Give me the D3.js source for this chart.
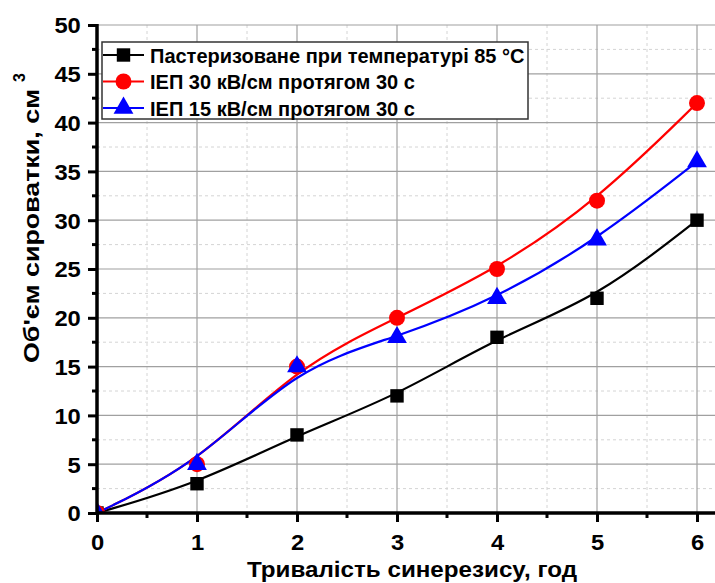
<!DOCTYPE html>
<html>
<head>
<meta charset="utf-8">
<script src="https://cdn.jsdelivr.net/npm/d3@7"></script>
<style>
  body { margin: 0; background: #fff; }
  svg { display: block; font-family: "Liberation Sans", Arial, sans-serif; font-weight: bold; }
</style>
</head>
<body>
<div id="graph"></div>
<script>
// data
const hours = [0, 1, 2, 3, 4, 5, 6]
const pasteurized = [0, 3, 8, 12, 18, 22, 30]
const pef30 = [0, 5, 15, 20, 25, 32, 42]
const pef15 = [0, 5, 15, 18, 22, 28, 36]
const seriesNames = [
    'Пастеризоване при температурі 85 °C',
    'ІЕП 30 кВ/см протягом 30 с',
    'ІЕП 15 кВ/см протягом 30 с'
]
const xTicks = [0, 1, 2, 3, 4, 5, 6]
const yTicks = [0, 5, 10, 15, 20, 25, 30, 35, 40, 45, 50]

const width = 715, height = 583
const pLeft = 97, pRight = 715, pTop = 25, pBottom = 513

const svg = d3.select('#graph').append('svg')
    .attr('width', width)
    .attr('height', height)

const x = d3.scaleLinear().domain([0, 6.18]).range([pLeft, pRight])
const y = d3.scaleLinear().domain([0, 50]).range([pBottom, pTop])

const xMinor = d3.range(0.5, 6.1, 1)
const yMinor = d3.range(2.5, 50, 5)

// grid
const grid = svg.append('g')
grid.selectAll('.vmin').data(xMinor).enter().append('line')
    .attr('x1', d => x(d)).attr('x2', d => x(d))
    .attr('y1', pTop).attr('y2', pBottom)
    .attr('stroke', '#d4d4d4').attr('stroke-dasharray', '3,3')
grid.selectAll('.hmin').data(yMinor).enter().append('line')
    .attr('x1', pLeft).attr('x2', pRight)
    .attr('y1', d => y(d)).attr('y2', d => y(d))
    .attr('stroke', '#d4d4d4').attr('stroke-dasharray', '3,3')
grid.selectAll('.vmaj').data(xTicks.slice(1)).enter().append('line')
    .attr('x1', d => x(d)).attr('x2', d => x(d))
    .attr('y1', pTop).attr('y2', pBottom)
    .attr('stroke', '#a0a0a0').attr('stroke-width', 1.2)
grid.selectAll('.hmaj').data(yTicks.slice(1)).enter().append('line')
    .attr('x1', pLeft).attr('x2', pRight)
    .attr('y1', d => y(d)).attr('y2', d => y(d))
    .attr('stroke', '#a0a0a0').attr('stroke-width', 1.2)

svg.append('clipPath').attr('id', 'clip')
    .append('rect').attr('x', pLeft).attr('y', 0).attr('width', pRight - pLeft).attr('height', pBottom)

const plot = svg.append('g').attr('clip-path', 'url(#clip)')

const series = [
    { name: seriesNames[0], values: pasteurized, colour: '#000000', symbol: d3.symbolSquare, size: 180 },
    { name: seriesNames[1], values: pef30, colour: '#ff0000', symbol: d3.symbolCircle, size: 200 },
    { name: seriesNames[2], values: pef15, colour: '#0000ff', symbol: d3.symbolTriangle, size: 170 }
]

const line = d3.line()
    .x((d, i) => x(hours[i]))
    .y(d => y(d))
    .curve(d3.curveBasis)

series.forEach(s => {
    plot.append('path')
        .attr('d', line(s.values))
        .attr('fill', 'none')
        .attr('stroke', s.colour)
        .attr('stroke-width', 2.2)
})
series.forEach(s => {
    plot.selectAll(null).data(s.values).enter().append('path')
        .attr('transform', (d, i) => 'translate(' + x(hours[i]) + ',' + y(d) + ')')
        .attr('d', d3.symbol().type(s.symbol).size(s.size))
        .attr('fill', s.colour)
})

// axes
const xAxis = svg.append('g')
    .attr('transform', 'translate(0,' + pBottom + ')')
    .call(d3.axisBottom(x).tickValues(xTicks).tickFormat(d3.format('d')).tickSize(9))
const yAxis = svg.append('g')
    .attr('transform', 'translate(' + pLeft + ',0)')
    .call(d3.axisLeft(y).tickValues(yTicks).tickSize(9).tickPadding(6))

xAxis.select('.domain').attr('d', 'M' + pLeft + ',0H' + pRight).attr('stroke-width', 3.5)
yAxis.select('.domain').attr('d', 'M0,' + (pTop - 1) + 'V' + pBottom).attr('stroke-width', 3.5)
xAxis.selectAll('.tick line').attr('stroke-width', 3)
yAxis.selectAll('.tick line').attr('stroke-width', 3)
xAxis.selectAll('.tick text')
    .attr('y', 37).attr('dy', null)
    .attr('transform', 'scale(1.08,1)')
yAxis.selectAll('.tick text')
    .attr('dy', '0.36em')
    .attr('transform', 'scale(1.08,1)')
svg.selectAll('.tick text')
    .attr('font-size', 22).attr('font-weight', 'bold').attr('fill', '#000')
    .attr('font-family', '"Liberation Sans", Arial, sans-serif')

xAxis.selectAll('.minor').data(xMinor).enter().append('line')
    .attr('x1', d => x(d)).attr('x2', d => x(d))
    .attr('y1', 0).attr('y2', 5).attr('stroke', '#000').attr('stroke-width', 3)
yAxis.selectAll('.minor').data(yMinor).enter().append('line')
    .attr('y1', d => y(d)).attr('y2', d => y(d))
    .attr('x1', 0).attr('x2', -5).attr('stroke', '#000').attr('stroke-width', 3)

// axis titles
svg.append('text')
    .attr('x', 247).attr('y', 577)
    .attr('font-size', 22)
    .attr('textLength', 330)
    .attr('lengthAdjust', 'spacingAndGlyphs')
    .text('Тривалість синерезису, год')

const yTitle = svg.append('text')
    .attr('transform', 'translate(39,363) rotate(-90)')
    .attr('font-size', 22)
yTitle.append('tspan')
    .attr('textLength', 274)
    .attr('lengthAdjust', 'spacingAndGlyphs')
    .text("Об'єм сироватки, см")
yTitle.append('tspan').attr('font-size', 16).attr('dx', 7).attr('dy', -14).text('3')

// legend
const legend = svg.append('g')
legend.append('rect')
    .attr('x', 102).attr('y', 42).attr('width', 426).attr('height', 77)
    .attr('fill', '#fff').attr('stroke', '#333').attr('stroke-width', 1.5)
const rowY = [55, 81.5, 108]
series.forEach((s, i) => {
    legend.append('line')
        .attr('x1', 103).attr('x2', 144)
        .attr('y1', rowY[i]).attr('y2', rowY[i])
        .attr('stroke', s.colour).attr('stroke-width', 2.2)
    legend.append('path')
        .attr('transform', 'translate(123.5,' + rowY[i] + ')')
        .attr('d', d3.symbol().type(s.symbol).size(s.size))
        .attr('fill', s.colour)
    legend.append('text')
        .attr('x', 150).attr('y', rowY[i] + 7.5)
        .attr('font-size', 20)
        .text(s.name)
})
</script>
</body>
</html>
